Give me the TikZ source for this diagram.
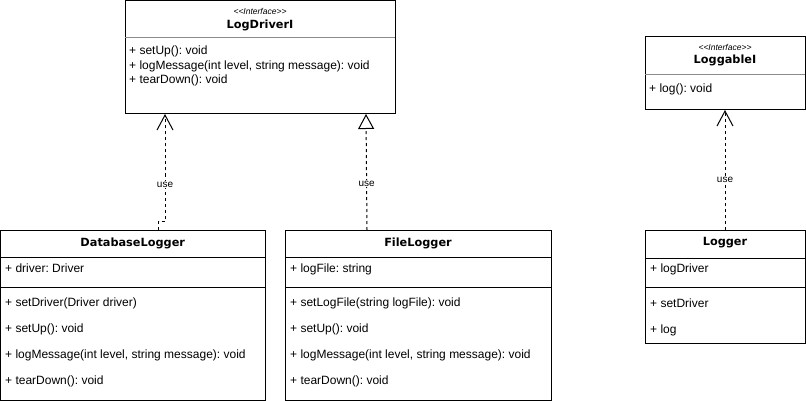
\documentclass[tikz,border=0pt]{standalone}
\usepackage{fontspec}
\setmainfont{Liberation Sans}
\newfontfamily\namefont{DejaVu Sans}
\usetikzlibrary{arrows.meta}
\frenchspacing
\begin{document}
\begin{tikzpicture}[x=1pt,y=-1pt,
  cls/.style={draw=black,line width=1pt,inner sep=0pt,outer sep=0pt,anchor=north west,fill=white},
  sep/.style={draw=black,line width=1pt},
  isep/.style={draw=black!45,line width=1pt},
  mem/.style={anchor=base west,inner sep=0pt,font=\fontsize{12}{14}\selectfont},
  cname/.style={inner sep=0pt,font=\namefont\bfseries\fontsize{11.3}{13}\selectfont},
  stereo/.style={inner sep=0pt,font=\itshape\fontsize{8.5}{10}\selectfont},
  dep/.style={line width=1pt,dash pattern=on 3pt off 3pt},
  lbl/.style={fill=white,inner sep=1pt,font=\fontsize{10}{12}\selectfont}
]
\useasboundingbox (0,0) rectangle (806,401);
% LogDriverI
\node[cls,minimum width=270pt,minimum height=113pt] (ldi) at (125,1) {};
\node[stereo] (ldis) at (260,11) {{<}{<}Interface{>}{>}};
\node[cname] (ldin) at (260,25) {LogDriverI};
\draw[isep] ([yshift=-37pt]ldi.north west) -- ([yshift=-37pt]ldi.north east);
\node[mem] (ldi1) at (129,54.3) {+ setUp(): void};
\node[mem] (ldi2) at (129,69.3) {+ logMessage(int level, string message): void};
\node[mem] (ldi3) at (129,83.3) {+ tearDown(): void};
% LoggableI
\node[cls,minimum width=160pt,minimum height=73pt] (lgi) at (645,37) {};
\node[stereo] (lgis) at (725,47) {{<}{<}Interface{>}{>}};
\node[cname] (lgin) at (725,60) {LoggableI};
\draw[isep] ([yshift=-38pt]lgi.north west) -- ([yshift=-38pt]lgi.north east);
\node[mem] (lgi1) at (649,92.3) {+ log(): void};
% DatabaseLogger
\node[cls,minimum width=264.5pt,minimum height=170pt] (dbl) at (0.5,230) {};
\node[cname] (dbln) at (132.75,243) {DatabaseLogger};
\draw[sep] ([yshift=-27pt]dbl.north west) -- ([yshift=-27pt]dbl.north east);
\draw[sep] ([yshift=-57pt]dbl.north west) -- ([yshift=-57pt]dbl.north east);
\node[mem] (dbl0) at (5,272.3) {+ driver: Driver};
\node[mem] (dbl1) at (5,306.3) {+ setDriver(Driver driver)};
\node[mem] (dbl2) at (5,332.3) {+ setUp(): void};
\node[mem] (dbl3) at (5,358.3) {+ logMessage(int level, string message): void};
\node[mem] (dbl4) at (5,384.3) {+ tearDown(): void};
% FileLogger
\node[cls,minimum width=266pt,minimum height=170pt] (fl) at (285,230) {};
\node[cname] (fln) at (418,243) {FileLogger};
\draw[sep] ([yshift=-27pt]fl.north west) -- ([yshift=-27pt]fl.north east);
\draw[sep] ([yshift=-57pt]fl.north west) -- ([yshift=-57pt]fl.north east);
\node[mem] (fl0) at (290,272.3) {+ logFile: string};
\node[mem] (fl1) at (290,306.3) {+ setLogFile(string logFile): void};
\node[mem] (fl2) at (290,332.3) {+ setUp(): void};
\node[mem] (fl3) at (290,358.3) {+ logMessage(int level, string message): void};
\node[mem] (fl4) at (290,384.3) {+ tearDown(): void};
% Logger
\node[cls,minimum width=160pt,minimum height=113pt] (lg) at (645,230) {};
\node[cname] (lgn) at (725,243) {Logger};
\draw[sep] ([yshift=-28pt]lg.north west) -- ([yshift=-28pt]lg.north east);
\draw[sep] ([yshift=-57pt]lg.north west) -- ([yshift=-57pt]lg.north east);
\node[mem] (lg0) at (650,272.3) {+ logDriver};
\node[mem] (lg1) at (650,307.3) {+ setDriver};
\node[mem] (lg2) at (650,333.3) {+ log};
% connectors
\draw[dep,-{Straight Barb[length=15pt,width=16pt,line width=1pt]}]
  ([xshift=158pt]dbl.north west) -- ++(0,-9) -| ([xshift=40pt]ldi.south west)
  node[lbl,pos=0.67] (u1) {use};
\draw[dep,-{Triangle[open,length=15pt,width=16pt,line width=1pt,fill=white]}]
  ([xshift=82pt]fl.north west) -- ([xshift=241pt]ldi.south west)
  node[lbl,pos=0.4] (u2) {use};
\draw[dep,-{Straight Barb[length=15pt,width=16pt,line width=1pt]}]
  (lg.north) -- (lgi.south) node[lbl,pos=0.42] (u3) {use};
\end{tikzpicture}
\end{document}
